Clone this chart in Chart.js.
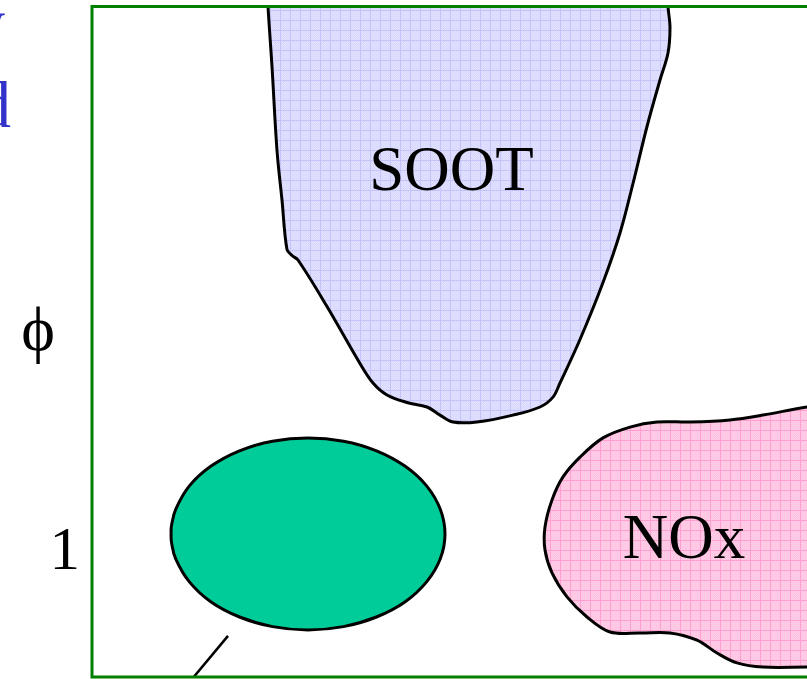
<!DOCTYPE html>
<html>
<head>
<meta charset="utf-8">
<script src="https://cdn.jsdelivr.net/npm/chart.js@4/dist/chart.umd.min.js"></script>
<style>
  html, body { margin: 0; padding: 0; background: #fff; overflow: hidden; }
  canvas { display: block; }
</style>
</head>
<body>
<canvas id="regionChart" width="807" height="679"></canvas>
<script>
// axis ranges (x = arbitrary operating axis, y = equivalence ratio phi)
const xRange = [0, 14.3];
const yRange = [0.585, 2.82];
const yTicks = [1];

// SOOT region outline
const sootX = [3.5, 3.52, 3.6, 3.7, 3.8, 3.9, 4.0, 4.12, 4.7, 5.36, 5.62, 5.9, 6.3, 6.7, 6.96, 7.22, 7.7, 8.42, 8.96, 9.22, 9.36, 9.76, 10.22, 10.56, 10.82, 11.1, 11.36, 11.52, 11.56, 11.52, 11.5, 3.5];
const sootY = [2.91, 2.82, 2.62, 2.34, 2.175, 2.01, 1.99, 1.975, 1.82, 1.63, 1.565, 1.525, 1.50, 1.485, 1.458, 1.435, 1.435, 1.458, 1.485, 1.518, 1.565, 1.71, 1.90, 2.065, 2.23, 2.42, 2.575, 2.665, 2.75, 2.82, 2.91, 2.91];

// NOx region outline
const noxX = [14.76, 14.3, 13.42, 12.76, 11.96, 11.3, 10.76, 10.22, 9.76, 9.42, 9.2, 9.06, 9.06, 9.2, 9.5, 9.9, 10.36, 10.96, 11.56, 12.1, 12.5, 12.9, 13.42, 14.3, 14.76, 14.76];
const noxY = [1.492, 1.485, 1.458, 1.442, 1.435, 1.435, 1.418, 1.382, 1.318, 1.252, 1.175, 1.085, 1.008, 0.932, 0.852, 0.785, 0.735, 0.732, 0.732, 0.708, 0.665, 0.632, 0.618, 0.618, 0.618, 1.492];

// low-emission (green) region outline
const cleanX = [1.58, 1.59, 1.674, 1.948, 2.382, 2.95, 3.61, 4.32, 5.03, 5.69, 6.258, 6.692, 6.966, 7.06, 6.966, 6.692, 6.258, 5.69, 5.03, 4.32, 3.61, 2.95, 2.382, 1.948, 1.674, 1.59, 1.58];
const cleanY = [1.062, 1.090, 1.144, 1.222, 1.288, 1.339, 1.371, 1.382, 1.371, 1.339, 1.288, 1.222, 1.144, 1.062, 0.979, 0.902, 0.835, 0.785, 0.753, 0.742, 0.753, 0.785, 0.835, 0.902, 0.979, 1.034, 1.062];

// leader line from the green region
const leaderX = [2.72, 2.0];
const leaderY = [0.722, 0.578];

// region names and where they sit
const regionNames = ["SOOT", "NOx"];
const regionNameX = [7.19, 11.84];
const regionNameY = [2.208, 0.982];

const toPoints = (xs, ys) => xs.map((x, i) => ({ x: x, y: ys[i] }));

// grid-paper fill like the original shapes
function gridPattern(bg, line, dot) {
    const c = document.createElement("canvas");
    c.width = 10;
    c.height = 10;
    const g = c.getContext("2d");
    g.fillStyle = bg;
    g.fillRect(0, 0, 10, 10);
    g.fillStyle = dot;
    for (let yy = 1; yy < 10; yy++) {
        for (let xx = 1 + (yy % 2); xx < 10; xx += 2) g.fillRect(xx, yy, 1, 1);
    }
    g.fillStyle = line;
    g.fillRect(0, 0, 10, 1);
    g.fillRect(0, 0, 1, 10);
    return g.createPattern(c, "repeat");
}

const ctx = document.getElementById("regionChart").getContext("2d");
const sootFill = gridPattern("#e2e2ff", "#c4c4fa", "#d8d8ff");
const noxFill = gridPattern("#ffcfe8", "#ff9ed0", "#ffc2e0");

const FONT = "'Liberation Serif', 'Times New Roman', serif";

const decorPlugin = {
    id: "decor",
    afterDatasetsDraw(chart) {
        const c = chart.ctx;
        const xs = chart.scales.x;
        const ys = chart.scales.y;
        const a = chart.chartArea;
        c.save();
        // region names
        c.fillStyle = "#000";
        c.textAlign = "center";
        c.textBaseline = "alphabetic";
        c.font = "63px " + FONT;
        regionNames.forEach((t, i) => {
            c.fillText(t, xs.getPixelForValue(regionNameX[i]), ys.getPixelForValue(regionNameY[i]));
        });
        // green frame (right side falls outside the picture)
        c.strokeStyle = "#008000";
        c.lineWidth = 3;
        c.beginPath();
        c.moveTo(chart.width + 5, a.top);
        c.lineTo(a.left, a.top);
        c.lineTo(a.left, a.bottom);
        c.lineTo(chart.width + 5, a.bottom);
        c.stroke();
        c.restore();
    },
    afterDraw(chart) {
        const c = chart.ctx;
        c.save();
        // axis symbol phi
        c.fillStyle = "#000";
        c.font = "64px " + FONT;
        c.textAlign = "center";
        c.textBaseline = "middle";
        c.fillText("ϕ", 38, 333);
        // fragments of the blue caption cut by the left edge
        c.fillStyle = "#3333cc";
        c.font = "66px " + FONT;
        c.textAlign = "left";
        c.textBaseline = "alphabetic";
        c.fillText("y", -28, 44);
        c.fillText("d", -22, 127);
        c.restore();
    }
};

new Chart(ctx, {
    type: "scatter",
    data: {
        datasets: [
            {
                label: "SOOT",
                data: toPoints(sootX, sootY),
                showLine: true,
                fill: "shape",
                backgroundColor: sootFill,
                borderColor: "#000",
                borderWidth: 3,
                tension: 0.35,
                pointRadius: 0,
                clip: 0
            },
            {
                label: "NOx",
                data: toPoints(noxX, noxY),
                showLine: true,
                fill: "shape",
                backgroundColor: noxFill,
                borderColor: "#000",
                borderWidth: 3,
                tension: 0.35,
                pointRadius: 0,
                clip: 0
            },
            {
                label: "clean",
                data: toPoints(cleanX, cleanY),
                showLine: true,
                fill: "shape",
                backgroundColor: "#00cc99",
                borderColor: "#000",
                borderWidth: 3,
                tension: 0.4,
                pointRadius: 0
            },
            {
                label: "leader",
                data: toPoints(leaderX, leaderY),
                showLine: true,
                fill: false,
                borderColor: "#000",
                borderWidth: 2.5,
                pointRadius: 0
            }
        ]
    },
    options: {
        responsive: false,
        animation: false,
        events: [],
        layout: { padding: { top: 6.5, bottom: 2, left: 0, right: 0 } },
        plugins: {
            legend: { display: false },
            tooltip: { enabled: false }
        },
        scales: {
            x: {
                type: "linear",
                display: false,
                min: xRange[0],
                max: xRange[1]
            },
            y: {
                type: "linear",
                min: yRange[0],
                max: yRange[1],
                grid: { display: false, drawTicks: false },
                border: { display: false },
                afterBuildTicks: (s) => { s.ticks = yTicks.map(v => ({ value: v })); },
                afterFit: (s) => {
                    s.width = 92;
                    s.paddingTop = 0;
                    s.paddingBottom = 0;
                },
                ticks: {
                    padding: 12,
                    color: "#000",
                    font: { family: FONT, size: 61 },
                    callback: (v) => String(v)
                }
            }
        }
    },
    plugins: [decorPlugin]
});
</script>
</body>
</html>
